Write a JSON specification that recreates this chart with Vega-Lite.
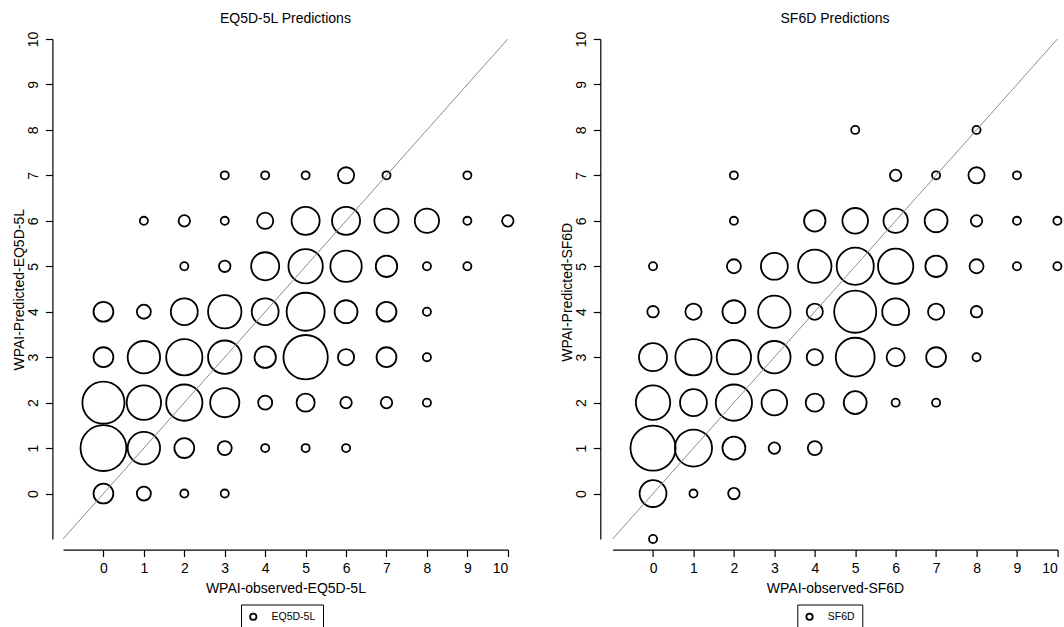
{
  "$schema": "https://vega.github.io/schema/vega-lite/v6.json",
  "padding": {"left": 12, "top": 12, "right": 0, "bottom": 0},
  "bounds": "flush",
  "spacing": 104.6,
  "config": {
    "view": {"stroke": null},
    "font": "Liberation Sans",
    "axis": {
      "grid": false,
      "domainColor": "#000000",
      "domainWidth": 1.2,
      "tickColor": "#000000",
      "tickWidth": 1.2,
      "tickSize": 7,
      "labelFont": "Liberation Sans",
      "labelFontSize": 14,
      "labelColor": "#000000",
      "titleFont": "Liberation Sans",
      "titleFontSize": 14,
      "titleFontWeight": "normal",
      "titleColor": "#000000"
    },
    "axisX": {"labelPadding": 5, "labelBaseline": "top", "labelAngle": 0},
    "axisY": {"labelAngle": -90, "labelAlign": "center", "labelBaseline": "alphabetic", "labelPadding": 8},
    "legend": {
      "strokeColor": "#000000",
      "padding": 7,
      "labelFont": "Liberation Sans",
      "labelFontSize": 10.5,
      "labelColor": "#000000",
      "labelOffset": 13,
      "symbolType": "circle",
      "symbolSize": 40,
      "symbolStrokeWidth": 1.8,
      "symbolStrokeColor": "#000000",
      "symbolFillColor": "transparent"
    },
    "title": {"font": "Liberation Sans", "fontSize": 14, "fontWeight": "normal", "color": "#000000"}
  },
  "datasets": {
    "eq": [
      {"obs": 3, "pred": 7, "n": 1, "instrument": "EQ5D-5L"},
      {"obs": 4, "pred": 7, "n": 1, "instrument": "EQ5D-5L"},
      {"obs": 5, "pred": 7, "n": 1, "instrument": "EQ5D-5L"},
      {"obs": 6, "pred": 7, "n": 4, "instrument": "EQ5D-5L"},
      {"obs": 7, "pred": 7, "n": 1, "instrument": "EQ5D-5L"},
      {"obs": 9, "pred": 7, "n": 1, "instrument": "EQ5D-5L"},
      {"obs": 1, "pred": 6, "n": 1, "instrument": "EQ5D-5L"},
      {"obs": 2, "pred": 6, "n": 2, "instrument": "EQ5D-5L"},
      {"obs": 3, "pred": 6, "n": 1, "instrument": "EQ5D-5L"},
      {"obs": 4, "pred": 6, "n": 4, "instrument": "EQ5D-5L"},
      {"obs": 5, "pred": 6, "n": 12, "instrument": "EQ5D-5L"},
      {"obs": 6, "pred": 6, "n": 12, "instrument": "EQ5D-5L"},
      {"obs": 7, "pred": 6, "n": 9, "instrument": "EQ5D-5L"},
      {"obs": 8, "pred": 6, "n": 9, "instrument": "EQ5D-5L"},
      {"obs": 9, "pred": 6, "n": 1, "instrument": "EQ5D-5L"},
      {"obs": 10, "pred": 6, "n": 2, "instrument": "EQ5D-5L"},
      {"obs": 2, "pred": 5, "n": 1, "instrument": "EQ5D-5L"},
      {"obs": 3, "pred": 5, "n": 2, "instrument": "EQ5D-5L"},
      {"obs": 4, "pred": 5, "n": 12, "instrument": "EQ5D-5L"},
      {"obs": 5, "pred": 5, "n": 18, "instrument": "EQ5D-5L"},
      {"obs": 6, "pred": 5, "n": 15, "instrument": "EQ5D-5L"},
      {"obs": 7, "pred": 5, "n": 7, "instrument": "EQ5D-5L"},
      {"obs": 8, "pred": 5, "n": 1, "instrument": "EQ5D-5L"},
      {"obs": 9, "pred": 5, "n": 1, "instrument": "EQ5D-5L"},
      {"obs": 0, "pred": 4, "n": 6, "instrument": "EQ5D-5L"},
      {"obs": 1, "pred": 4, "n": 3, "instrument": "EQ5D-5L"},
      {"obs": 2, "pred": 4, "n": 11, "instrument": "EQ5D-5L"},
      {"obs": 3, "pred": 4, "n": 17, "instrument": "EQ5D-5L"},
      {"obs": 4, "pred": 4, "n": 11, "instrument": "EQ5D-5L"},
      {"obs": 5, "pred": 4, "n": 22, "instrument": "EQ5D-5L"},
      {"obs": 6, "pred": 4, "n": 8, "instrument": "EQ5D-5L"},
      {"obs": 7, "pred": 4, "n": 6, "instrument": "EQ5D-5L"},
      {"obs": 8, "pred": 4, "n": 1, "instrument": "EQ5D-5L"},
      {"obs": 0, "pred": 3, "n": 6, "instrument": "EQ5D-5L"},
      {"obs": 1, "pred": 3, "n": 16, "instrument": "EQ5D-5L"},
      {"obs": 2, "pred": 3, "n": 20, "instrument": "EQ5D-5L"},
      {"obs": 3, "pred": 3, "n": 17, "instrument": "EQ5D-5L"},
      {"obs": 4, "pred": 3, "n": 7, "instrument": "EQ5D-5L"},
      {"obs": 5, "pred": 3, "n": 30, "instrument": "EQ5D-5L"},
      {"obs": 6, "pred": 3, "n": 4, "instrument": "EQ5D-5L"},
      {"obs": 7, "pred": 3, "n": 6, "instrument": "EQ5D-5L"},
      {"obs": 8, "pred": 3, "n": 1, "instrument": "EQ5D-5L"},
      {"obs": 0, "pred": 2, "n": 27, "instrument": "EQ5D-5L"},
      {"obs": 1, "pred": 2, "n": 18, "instrument": "EQ5D-5L"},
      {"obs": 2, "pred": 2, "n": 20, "instrument": "EQ5D-5L"},
      {"obs": 3, "pred": 2, "n": 13, "instrument": "EQ5D-5L"},
      {"obs": 4, "pred": 2, "n": 3, "instrument": "EQ5D-5L"},
      {"obs": 5, "pred": 2, "n": 5, "instrument": "EQ5D-5L"},
      {"obs": 6, "pred": 2, "n": 2, "instrument": "EQ5D-5L"},
      {"obs": 7, "pred": 2, "n": 2, "instrument": "EQ5D-5L"},
      {"obs": 8, "pred": 2, "n": 1, "instrument": "EQ5D-5L"},
      {"obs": 0, "pred": 1, "n": 32, "instrument": "EQ5D-5L"},
      {"obs": 1, "pred": 1, "n": 16, "instrument": "EQ5D-5L"},
      {"obs": 2, "pred": 1, "n": 6, "instrument": "EQ5D-5L"},
      {"obs": 3, "pred": 1, "n": 3, "instrument": "EQ5D-5L"},
      {"obs": 4, "pred": 1, "n": 1, "instrument": "EQ5D-5L"},
      {"obs": 5, "pred": 1, "n": 1, "instrument": "EQ5D-5L"},
      {"obs": 6, "pred": 1, "n": 1, "instrument": "EQ5D-5L"},
      {"obs": 0, "pred": 0, "n": 6, "instrument": "EQ5D-5L"},
      {"obs": 1, "pred": 0, "n": 3, "instrument": "EQ5D-5L"},
      {"obs": 2, "pred": 0, "n": 1, "instrument": "EQ5D-5L"},
      {"obs": 3, "pred": 0, "n": 1, "instrument": "EQ5D-5L"}
    ],
    "sf": [
      {"obs": 5, "pred": 8, "n": 1, "instrument": "SF6D"},
      {"obs": 8, "pred": 8, "n": 1, "instrument": "SF6D"},
      {"obs": 2, "pred": 7, "n": 1, "instrument": "SF6D"},
      {"obs": 6, "pred": 7, "n": 2, "instrument": "SF6D"},
      {"obs": 7, "pred": 7, "n": 1, "instrument": "SF6D"},
      {"obs": 8, "pred": 7, "n": 4, "instrument": "SF6D"},
      {"obs": 9, "pred": 7, "n": 1, "instrument": "SF6D"},
      {"obs": 2, "pred": 6, "n": 1, "instrument": "SF6D"},
      {"obs": 4, "pred": 6, "n": 7, "instrument": "SF6D"},
      {"obs": 5, "pred": 6, "n": 10, "instrument": "SF6D"},
      {"obs": 6, "pred": 6, "n": 9, "instrument": "SF6D"},
      {"obs": 7, "pred": 6, "n": 8, "instrument": "SF6D"},
      {"obs": 8, "pred": 6, "n": 2, "instrument": "SF6D"},
      {"obs": 9, "pred": 6, "n": 1, "instrument": "SF6D"},
      {"obs": 10, "pred": 6, "n": 1, "instrument": "SF6D"},
      {"obs": 0, "pred": 5, "n": 1, "instrument": "SF6D"},
      {"obs": 2, "pred": 5, "n": 3, "instrument": "SF6D"},
      {"obs": 3, "pred": 5, "n": 11, "instrument": "SF6D"},
      {"obs": 4, "pred": 5, "n": 17, "instrument": "SF6D"},
      {"obs": 5, "pred": 5, "n": 21, "instrument": "SF6D"},
      {"obs": 6, "pred": 5, "n": 19, "instrument": "SF6D"},
      {"obs": 7, "pred": 5, "n": 7, "instrument": "SF6D"},
      {"obs": 8, "pred": 5, "n": 3, "instrument": "SF6D"},
      {"obs": 9, "pred": 5, "n": 1, "instrument": "SF6D"},
      {"obs": 10, "pred": 5, "n": 1, "instrument": "SF6D"},
      {"obs": 0, "pred": 4, "n": 2, "instrument": "SF6D"},
      {"obs": 1, "pred": 4, "n": 4, "instrument": "SF6D"},
      {"obs": 2, "pred": 4, "n": 8, "instrument": "SF6D"},
      {"obs": 3, "pred": 4, "n": 16, "instrument": "SF6D"},
      {"obs": 4, "pred": 4, "n": 4, "instrument": "SF6D"},
      {"obs": 5, "pred": 4, "n": 27, "instrument": "SF6D"},
      {"obs": 6, "pred": 4, "n": 11, "instrument": "SF6D"},
      {"obs": 7, "pred": 4, "n": 4, "instrument": "SF6D"},
      {"obs": 8, "pred": 4, "n": 2, "instrument": "SF6D"},
      {"obs": 0, "pred": 3, "n": 12, "instrument": "SF6D"},
      {"obs": 1, "pred": 3, "n": 20, "instrument": "SF6D"},
      {"obs": 2, "pred": 3, "n": 18, "instrument": "SF6D"},
      {"obs": 3, "pred": 3, "n": 16, "instrument": "SF6D"},
      {"obs": 4, "pred": 3, "n": 4, "instrument": "SF6D"},
      {"obs": 5, "pred": 3, "n": 23, "instrument": "SF6D"},
      {"obs": 6, "pred": 3, "n": 5, "instrument": "SF6D"},
      {"obs": 7, "pred": 3, "n": 6, "instrument": "SF6D"},
      {"obs": 8, "pred": 3, "n": 1, "instrument": "SF6D"},
      {"obs": 0, "pred": 2, "n": 18, "instrument": "SF6D"},
      {"obs": 1, "pred": 2, "n": 11, "instrument": "SF6D"},
      {"obs": 2, "pred": 2, "n": 20, "instrument": "SF6D"},
      {"obs": 3, "pred": 2, "n": 10, "instrument": "SF6D"},
      {"obs": 4, "pred": 2, "n": 5, "instrument": "SF6D"},
      {"obs": 5, "pred": 2, "n": 8, "instrument": "SF6D"},
      {"obs": 6, "pred": 2, "n": 1, "instrument": "SF6D"},
      {"obs": 7, "pred": 2, "n": 1, "instrument": "SF6D"},
      {"obs": 0, "pred": 1, "n": 31, "instrument": "SF6D"},
      {"obs": 1, "pred": 1, "n": 21, "instrument": "SF6D"},
      {"obs": 2, "pred": 1, "n": 8, "instrument": "SF6D"},
      {"obs": 3, "pred": 1, "n": 2, "instrument": "SF6D"},
      {"obs": 4, "pred": 1, "n": 3, "instrument": "SF6D"},
      {"obs": 0, "pred": 0, "n": 11, "instrument": "SF6D"},
      {"obs": 1, "pred": 0, "n": 1, "instrument": "SF6D"},
      {"obs": 2, "pred": 0, "n": 2, "instrument": "SF6D"},
      {"obs": 0, "pred": -1, "n": 1, "instrument": "SF6D"}
    ],
    "diag": [{"x": -1, "y": -1, "x2": 10, "y2": 10}]
  },
  "resolve": {"scale": {"color": "independent"}, "legend": {"color": "independent"}},
  "hconcat": [
    {
      "width": 444.8,
      "height": 500,
      "title": {"text": "EQ5D-5L Predictions", "anchor": "middle", "frame": "group", "baseline": "alphabetic", "offset": -5.8},
      "layer": [
        {
          "data": {"name": "eq"},
          "mark": {"type": "point", "shape": "circle", "filled": false, "strokeWidth": 1.8, "opacity": 1},
          "encoding": {
            "x": {"field": "obs", "type": "quantitative", "title": "WPAI-observed-EQ5D-5L",
                  "scale": {"domain": [-1, 10], "nice": false, "zero": false},
                  "axis": {"values": [0,1,2,3,4,5,6,7,8,9,10], "offset": 10.6, "titleX": 222.4, "titleY": 43, "titleBaseline": "alphabetic"}},
            "y": {"field": "pred", "type": "quantitative", "title": "WPAI-Predicted-EQ5D-5L",
                  "scale": {"domain": [-1, 10], "nice": false, "zero": false},
                  "axis": {"values": [0,1,2,3,4,5,6,7,8,9,10], "offset": 10.6, "titleX": -29.3, "titleY": 250.3, "titleBaseline": "alphabetic", "titleAngle": -90}},
            "size": {"field": "n", "type": "quantitative", "scale": {"type": "linear", "domain": [0, 32], "range": [0, 2100]}, "legend": null},
            "color": {"field": "instrument", "type": "nominal", "scale": {"range": ["#000000"]},
                      "legend": {"orient": "none", "legendX": 178, "legendY": 565.5, "title": null}}
          }
        },
        {
          "data": {"name": "diag"},
          "mark": {"type": "rule", "color": "#8c8c8c", "strokeWidth": 1},
          "encoding": {
            "x": {"field": "x", "type": "quantitative", "title": "WPAI-observed-EQ5D-5L", "scale": {"domain": [-1, 10], "nice": false, "zero": false}},
            "y": {"field": "y", "type": "quantitative", "title": "WPAI-Predicted-EQ5D-5L", "scale": {"domain": [-1, 10], "nice": false, "zero": false}},
            "x2": {"field": "x2"},
            "y2": {"field": "y2"}
          }
        }
      ]
    },
    {
      "width": 444.8,
      "height": 500,
      "title": {"text": "SF6D Predictions", "anchor": "middle", "frame": "group", "baseline": "alphabetic", "offset": -5.8},
      "layer": [
        {
          "data": {"name": "sf"},
          "mark": {"type": "point", "shape": "circle", "filled": false, "strokeWidth": 1.8, "opacity": 1},
          "encoding": {
            "x": {"field": "obs", "type": "quantitative", "title": "WPAI-observed-SF6D",
                  "scale": {"domain": [-1, 10], "nice": false, "zero": false},
                  "axis": {"values": [0,1,2,3,4,5,6,7,8,9,10], "offset": 10.6, "titleX": 222.4, "titleY": 43, "titleBaseline": "alphabetic"}},
            "y": {"field": "pred", "type": "quantitative", "title": "WPAI-Predicted-SF6D",
                  "scale": {"domain": [-1, 10], "nice": false, "zero": false},
                  "axis": {"values": [0,1,2,3,4,5,6,7,8,9,10], "offset": 12.3, "titleX": -28.7, "titleY": 252.8, "titleBaseline": "alphabetic", "titleAngle": -90}},
            "size": {"field": "n", "type": "quantitative", "scale": {"type": "linear", "domain": [0, 32], "range": [0, 2100]}, "legend": null},
            "color": {"field": "instrument", "type": "nominal", "scale": {"range": ["#000000"]},
                      "legend": {"orient": "none", "legendX": 184.7, "legendY": 565.5, "title": null}}
          }
        },
        {
          "data": {"name": "diag"},
          "mark": {"type": "rule", "color": "#8c8c8c", "strokeWidth": 1},
          "encoding": {
            "x": {"field": "x", "type": "quantitative", "title": "WPAI-observed-SF6D", "scale": {"domain": [-1, 10], "nice": false, "zero": false}},
            "y": {"field": "y", "type": "quantitative", "title": "WPAI-Predicted-SF6D", "scale": {"domain": [-1, 10], "nice": false, "zero": false}},
            "x2": {"field": "x2"},
            "y2": {"field": "y2"}
          }
        }
      ]
    }
  ]
}
